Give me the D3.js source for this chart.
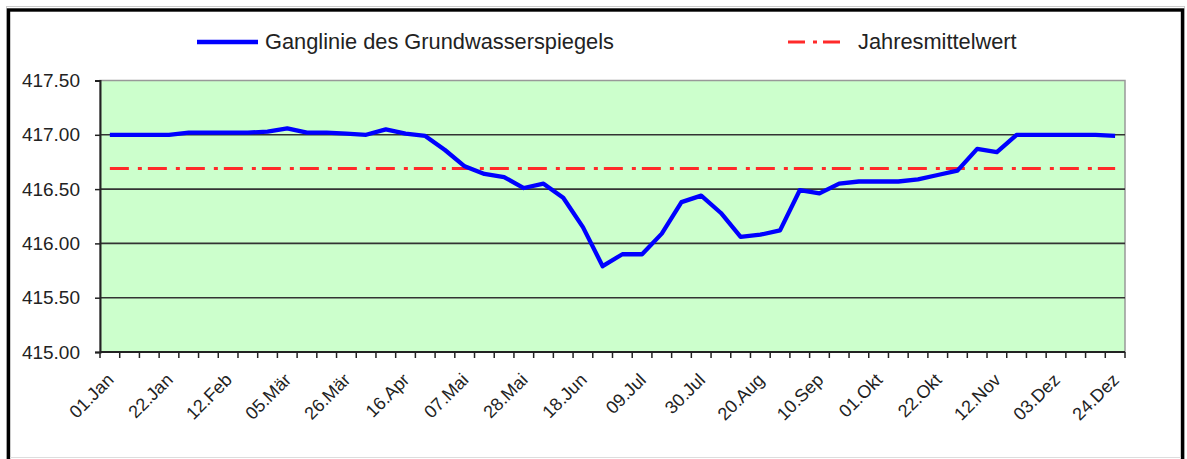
<!DOCTYPE html>
<html lang="de">
<head>
    <meta charset="UTF-8">
    <title>Ganglinie des Grundwasserspiegels</title>
    <script src="https://cdnjs.cloudflare.com/ajax/libs/d3/7.8.5/d3.min.js"></script>
    <style>
        body {
            margin: 0;
            background: #fff;
        }
        svg {
            display: block;
            font-family: "Liberation Sans", Arial, sans-serif;
        }
        .grid line {
            stroke: #333;
            stroke-width: 1.6px;
        }
        .label {
            fill: #222;
        }
    </style>
</head>
<body>
    <svg width="1187" height="459"></svg>

    <script>
        // Wochenwerte (Montag jeder Woche)
        const weeks = [
            "01.Jan", "08.Jan", "15.Jan", "22.Jan", "29.Jan", "05.Feb", "12.Feb", "19.Feb", "26.Feb",
            "05.Mär", "12.Mär", "19.Mär", "26.Mär", "02.Apr", "09.Apr", "16.Apr", "23.Apr", "30.Apr",
            "07.Mai", "14.Mai", "21.Mai", "28.Mai", "04.Jun", "11.Jun", "18.Jun", "25.Jun", "02.Jul",
            "09.Jul", "16.Jul", "23.Jul", "30.Jul", "06.Aug", "13.Aug", "20.Aug", "27.Aug", "03.Sep",
            "10.Sep", "17.Sep", "24.Sep", "01.Okt", "08.Okt", "15.Okt", "22.Okt", "29.Okt", "05.Nov",
            "12.Nov", "19.Nov", "26.Nov", "03.Dez", "10.Dez", "17.Dez", "24.Dez"
        ];

        const pegel = [
            417.00, 417.00, 417.00, 417.00, 417.02, 417.02, 417.02, 417.02, 417.03,
            417.06, 417.02, 417.02, 417.01, 417.00, 417.05, 417.01, 416.99, 416.86,
            416.71, 416.64, 416.61, 416.51, 416.55, 416.42, 416.15, 415.79, 415.90,
            415.90, 416.09, 416.38, 416.44, 416.28, 416.06, 416.08, 416.12, 416.49,
            416.46, 416.55, 416.57, 416.57, 416.57, 416.59, 416.63, 416.67, 416.87,
            416.84, 417.00, 417.00, 417.00, 417.00, 417.00, 416.99
        ];

        const jahresmittel = 416.69;

        const xLabels = ["01.Jan", "22.Jan", "12.Feb", "05.Mär", "26.Mär", "16.Apr", "07.Mai", "28.Mai",
            "18.Jun", "09.Jul", "30.Jul", "20.Aug", "10.Sep", "01.Okt", "22.Okt", "12.Nov", "03.Dez", "24.Dez"];
        const yTicks = [415.0, 415.5, 416.0, 416.5, 417.0, 417.5];

        const svg = d3.select("svg");

        const plot = { left: 100, right: 1125, top: 80.5, bottom: 352 };

        const x = d3.scaleBand()
            .domain(weeks)
            .range([plot.left, plot.right]);

        const y = d3.scaleLinear()
            .domain([415, 417.5])
            .range([plot.bottom, plot.top]);

        const cx = d => x(d) + x.bandwidth() / 2;

        // Rahmen
        svg.append("rect")
            .attr("x", 6.5).attr("y", 6.5)
            .attr("width", 1178).attr("height", 470)
            .attr("fill", "none")
            .attr("stroke", "#ccc")
            .attr("stroke-width", 1);

        svg.append("rect")
            .attr("x", 8.5).attr("y", 10)
            .attr("width", 1174).attr("height", 470)
            .attr("fill", "#fff")
            .attr("stroke", "#000")
            .attr("stroke-width", 3.4);

        svg.append("line")
            .attr("x1", 10).attr("x2", 1181)
            .attr("y1", 457.5).attr("y2", 457.5)
            .attr("stroke", "#ddd");

        // Zeichenfläche
        svg.append("rect")
            .attr("x", plot.left)
            .attr("y", plot.top)
            .attr("width", plot.right - plot.left)
            .attr("height", plot.bottom - plot.top)
            .attr("fill", "#ccffcc")
            .attr("stroke", "#999")
            .attr("stroke-width", 1.5);

        svg.append("g")
            .attr("class", "grid")
            .selectAll("line")
            .data(yTicks.filter(t => t > 415 && t < 417.5))
            .enter()
            .append("line")
            .attr("x1", plot.left)
            .attr("x2", plot.right)
            .attr("y1", d => y(d))
            .attr("y2", d => y(d));

        // Y-Achse
        const yAxis = svg.append("g")
            .attr("transform", `translate(${plot.left},0)`)
            .call(d3.axisLeft(y)
                .tickValues(yTicks)
                .tickFormat(d3.format(".2f"))
                .tickSize(5)
                .tickPadding(15));
        yAxis.select(".domain").attr("stroke", "#222").attr("stroke-width", 2);
        yAxis.selectAll(".tick line").attr("stroke", "#222").attr("stroke-width", 1.5);
        yAxis.selectAll(".tick text")
            .attr("class", "label")
            .style("font-size", "19px")
            .attr("font-family", null);

        // X-Achse
        const xAxis = svg.append("g")
            .attr("transform", `translate(0,${plot.bottom})`);
        xAxis.append("line")
            .attr("x1", plot.left).attr("x2", plot.right)
            .attr("stroke", "#222").attr("stroke-width", 2);
        xAxis.selectAll(".xtick")
            .data(weeks.concat([null]))
            .enter()
            .append("line")
            .attr("x1", (d, i) => d ? x(d) : plot.right)
            .attr("x2", (d, i) => d ? x(d) : plot.right)
            .attr("y1", 0).attr("y2", 6)
            .attr("stroke", "#222").attr("stroke-width", 1.5);

        xAxis.selectAll(".xlabel")
            .data(xLabels)
            .enter()
            .append("text")
            .attr("class", "label")
            .attr("text-anchor", "end")
            .attr("dy", "0.71em")
            .attr("transform", d => `translate(${cx(d) - 4},${20}) rotate(-45)`)
            .style("font-size", "18px")
            .text(d => d);

        // Jahresmittelwert
        const line = d3.line()
            .x((d, i) => cx(weeks[i]))
            .y(d => y(d));

        svg.append("path")
            .datum(weeks.map(() => jahresmittel))
            .attr("d", line)
            .attr("fill", "none")
            .attr("stroke", "#ff2a2a")
            .attr("stroke-width", 3)
            .attr("stroke-dasharray", "19,9,4,6");

        // Ganglinie
        svg.append("path")
            .datum(pegel)
            .attr("d", line)
            .attr("fill", "none")
            .attr("stroke", "#0000ff")
            .attr("stroke-width", 4.3)
            .attr("stroke-linejoin", "round");

        // Legende
        const legend = svg.append("g");
        legend.append("line")
            .attr("x1", 197).attr("x2", 258)
            .attr("y1", 42).attr("y2", 42)
            .attr("stroke", "#0000ff")
            .attr("stroke-width", 4.3);
        legend.append("text")
            .attr("class", "label")
            .attr("x", 265).attr("y", 49)
            .style("font-size", "21.8px")
            .text("Ganglinie des Grundwasserspiegels");
        legend.append("line")
            .attr("x1", 788).attr("x2", 843)
            .attr("y1", 42).attr("y2", 42)
            .attr("stroke", "#ff2a2a")
            .attr("stroke-width", 3)
            .attr("stroke-dasharray", "17,8,4,6");
        legend.append("text")
            .attr("class", "label")
            .attr("x", 858).attr("y", 49)
            .style("font-size", "21.8px")
            .text("Jahresmittelwert");
    </script>
</body>
</html>
